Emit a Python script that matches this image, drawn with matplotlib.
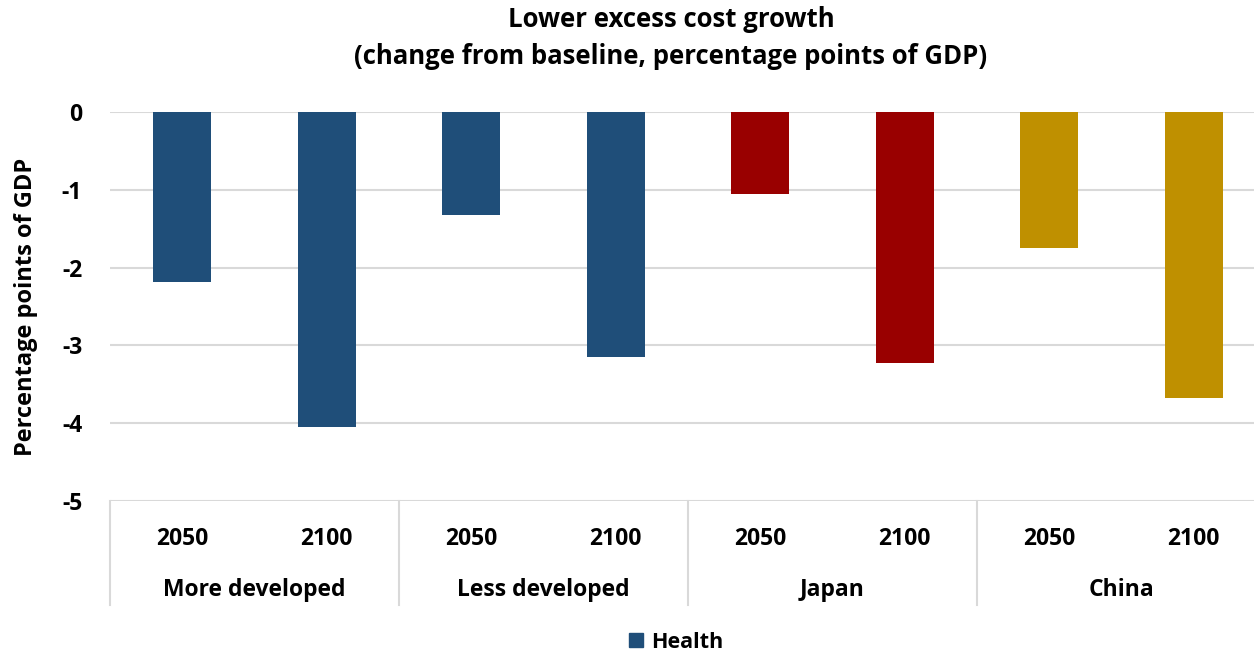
import matplotlib.pyplot as plt
import matplotlib.transforms as mtransforms
from matplotlib.patches import Patch

plt.rcParams['font.family'] = ['Open Sans', 'DejaVu Sans']
plt.rcParams['font.weight'] = 'bold'

groups = ['More developed', 'Less developed', 'Japan', 'China']
years = ['2050', '2100']
values = [-2.18, -4.05, -1.33, -3.15, -1.06, -3.23, -1.75, -3.68]
group_colors = ['#1F4E79', '#1F4E79', '#990000', '#BF9000']

colors = [c for c in group_colors for _ in years]
positions = list(range(len(values)))
year_labels = years * len(groups)

fig = plt.figure(figsize=(12.54, 6.53), dpi=100)
# plot area runs slightly past the right edge of the canvas
ax = fig.add_axes([110 / 1254, 1 - 501 / 653, 1156 / 1254, (501 - 112) / 653])

ax.bar(positions, values, width=0.4, color=colors, zorder=3)

ax.set_xlim(-0.5, len(values) - 0.5)
ax.set_ylim(-5, 0)
ax.set_yticks([0, -1, -2, -3, -4, -5])
ax.set_yticklabels(['0', '-1', '-2', '-3', '-4', '-5'], fontsize=16.5, fontweight='bold')
ax.tick_params(axis='y', length=0, pad=20)
ax.set_xticks(positions)
ax.set_xticklabels(year_labels, fontsize=16.5, fontweight='bold')
ax.tick_params(axis='x', length=0, pad=19)
ax.grid(axis='y', color='#D9D9D9', linewidth=1.5, zorder=0)
for s in ax.spines.values():
    s.set_visible(False)

# category group labels and separators under the axis
trans = mtransforms.blended_transform_factory(ax.transData, ax.transAxes)
for i, g in enumerate(groups):
    ax.text(2 * i + 0.5, -0.2285, g, transform=trans, ha='center', va='center',
            fontsize=16.5, fontweight='bold')
for b in range(len(groups) + 1):
    x = 2 * b - 0.5
    ax.plot([x, x], [0, -0.268], transform=trans, color='#D9D9D9',
            linewidth=1.5, clip_on=False)

ax.set_ylabel('Percentage points of GDP', fontsize=17, fontweight='bold', labelpad=17)

fig.text(671 / 1254, 1 - 38 / 653,
         'Lower excess cost growth\n(change from baseline, percentage points of GDP)',
         ha='center', va='center', fontsize=18.5, fontweight='bold', linespacing=1.45)

fig.legend(handles=[Patch(color='#1F4E79', label='Health')], loc='center',
           bbox_to_anchor=(676 / 1254, 1 - 642 / 653), frameon=False,
           prop={'size': 15.5, 'weight': 'bold'}, handlelength=0.65, handleheight=0.65,
           handletextpad=0.4)

fig.savefig('out.png', dpi=100)
